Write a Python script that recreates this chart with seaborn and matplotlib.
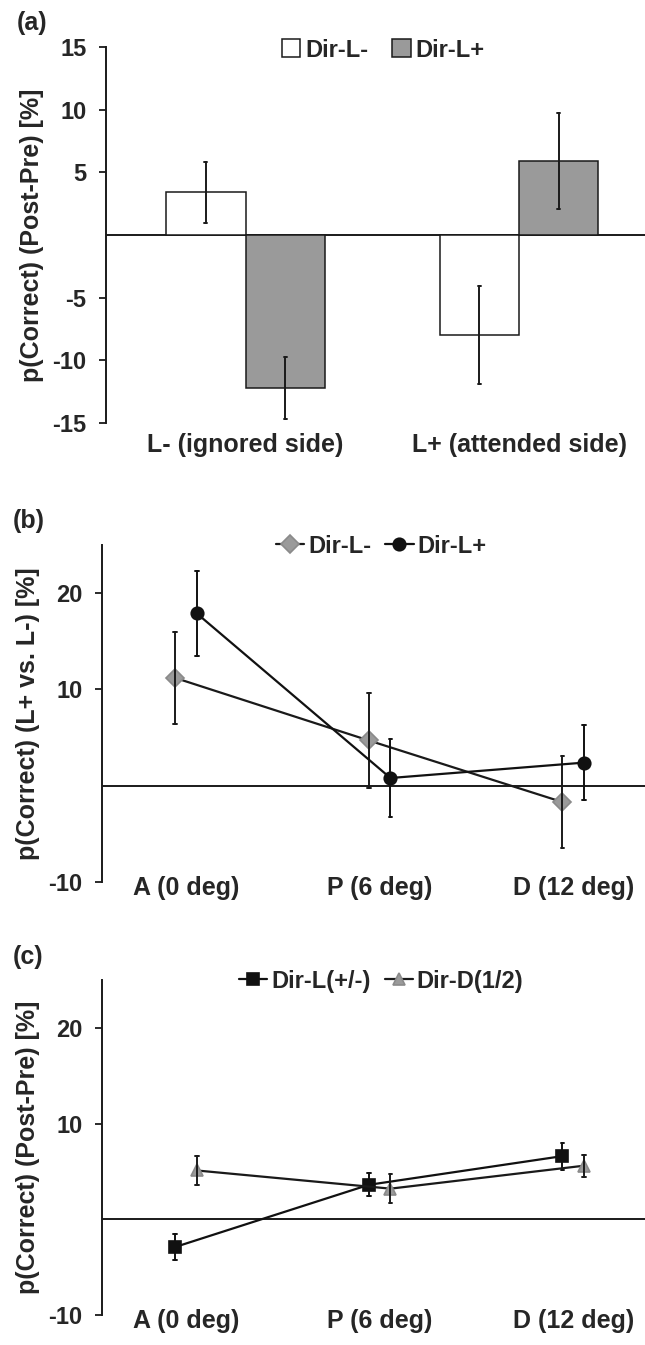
import matplotlib
matplotlib.use("Agg")
import matplotlib.pyplot as plt
import pandas as pd
import seaborn as sns

# panel (a): bar values and error bars
sides = ["L- (ignored side)", "L+ (attended side)"]
dir_lm_a = [3.4, -8.0]
dir_lm_a_err = [2.45, 3.9]
dir_lp_a = [-12.2, 5.9]
dir_lp_a_err = [2.5, 3.85]

# panels (b) and (c): eccentricity locations
locs = ["A (0 deg)", "P (6 deg)", "D (12 deg)"]
dir_lm_b = [11.2, 4.7, -1.7]
dir_lm_b_err = [4.75, 4.9, 4.8]
dir_lp_b = [17.9, 0.8, 2.4]
dir_lp_b_err = [4.45, 4.0, 3.9]

dir_l_c = [-2.9, 3.6, 6.6]
dir_l_c_err = [1.4, 1.2, 1.4]
dir_d_c = [5.1, 3.2, 5.6]
dir_d_c_err = [1.5, 1.5, 1.15]


def long_table(cats, series):
    # each mean is stored as the two ends of its error bar
    rows = []
    for name, vals, errs in series:
        for c, v, e in zip(cats, vals, errs):
            rows.append({"cat": c, "cond": name, "val": v - e})
            rows.append({"cat": c, "cond": name, "val": v + e})
    return pd.DataFrame(rows)


def span(x):
    return (x.min(), x.max())


sns.set_style("white")
plt.rcParams["font.family"] = ["Liberation Sans", "DejaVu Sans"]
plt.rcParams["font.weight"] = "bold"
plt.rcParams["axes.unicode_minus"] = False

fig = plt.figure(figsize=(6.45, 13.45), dpi=100)
ax_a = fig.add_axes([106 / 645, 1 - 423 / 1345, 539 / 645, 376 / 1345])
ax_b = fig.add_axes([102 / 645, 1 - 882 / 1345, 543 / 645, 337 / 1345])
ax_c = fig.add_axes([102 / 645, 1 - 1315 / 1345, 543 / 645, 335 / 1345])

# (a) bar chart
df_a = long_table(sides, [("Dir-L-", dir_lm_a, dir_lm_a_err),
                          ("Dir-L+", dir_lp_a, dir_lp_a_err)])
sns.barplot(data=df_a, x="cat", y="val", hue="cond", ax=ax_a,
            palette=["white", "#9a9a9a"], edgecolor="#1a1a1a", linewidth=1.1,
            width=0.58, errorbar=span, capsize=0.02,
            err_kws={"color": "#1a1a1a", "linewidth": 1.4})
ax_a.set_xlim(-0.51, 1.46)
ax_a.set_ylim(-15, 15)
ax_a.set_yticks([-15, -10, -5, 5, 10, 15])
ax_a.set_ylabel("p(Correct) (Post-Pre) [%]", fontsize=18, fontweight="bold", labelpad=6)
h, l = ax_a.get_legend_handles_labels()
ax_a.legend(h, l, loc="center", bbox_to_anchor=(0.514, 0.992), ncol=2, frameon=False,
            fontsize=17, handlelength=0.8, handleheight=0.8, handletextpad=0.2,
            columnspacing=1.0)
ax_a.tick_params(axis="x", pad=7, labelsize=18)

# (b) and (c) point charts
def point_panel(ax, series, order, palette, markers, gray_marker, ylabel):
    df = long_table(locs, series)
    sns.pointplot(data=df, x="cat", y="val", hue="cond", hue_order=order, ax=ax,
                  palette=palette, markers=markers, dodge=0.112, errorbar=span,
                  capsize=0.02, err_kws={"linewidth": 1.4}, linewidth=1.6,
                  markersize=9, legend=False)
    marks = [ln for ln in ax.lines if ln.get_marker() not in (None, "", "None")]
    for ln in marks:
        if ln.get_marker() == gray_marker:
            ln.set_markerfacecolor("#9a9a9a")
            ln.set_markeredgecolor("#8a8a8a")
    ax.legend(marks, order, loc="center", bbox_to_anchor=(0.514, 0.997), ncol=2,
              frameon=False, fontsize=17, handlelength=1.2, handletextpad=0.15,
              columnspacing=0.6)
    ax.set_xlim(-0.433, 2.37)
    ax.set_ylim(-10, 25)
    ax.set_yticks([-10, 10, 20])
    ax.set_ylabel(ylabel, fontsize=18, fontweight="bold", labelpad=6)
    ax.tick_params(axis="x", pad=-4, labelsize=18)


point_panel(ax_b, [("Dir-L-", dir_lm_b, dir_lm_b_err), ("Dir-L+", dir_lp_b, dir_lp_b_err)],
            ["Dir-L-", "Dir-L+"], ["#1a1a1a", "#111111"], ["D", "o"], "D",
            "p(Correct) (L+ vs. L-) [%]")
point_panel(ax_c, [("Dir-L(+/-)", dir_l_c, dir_l_c_err), ("Dir-D(1/2)", dir_d_c, dir_d_c_err)],
            ["Dir-L(+/-)", "Dir-D(1/2)"], ["#111111", "#1a1a1a"], ["s", "^"], "^",
            "p(Correct) (Post-Pre) [%]")

for ax, tag in zip([ax_a, ax_b, ax_c], ["(a)", "(b)", "(c)"]):
    ax.axhline(0, color="#1a1a1a", linewidth=1.4, zorder=0.5)
    sns.despine(ax=ax, top=True, right=True, bottom=True)
    ax.spines["left"].set_color("#1a1a1a")
    ax.spines["left"].set_linewidth(1.4)
    ax.set_xlabel("")
    ax.tick_params(axis="x", length=0)
    ax.tick_params(axis="y", direction="out", length=5, width=1.3, color="#1a1a1a",
                   labelsize=17, left=True, pad=9)
    for t in ax.get_xticklabels() + ax.get_yticklabels():
        t.set_fontweight("bold")
    ax.text(-0.165, 1.065 if tag == "(a)" else 1.07, tag, transform=ax.transAxes,
            fontsize=18, fontweight="bold", ha="left", va="center")

fig.savefig("out.png", dpi=100)
